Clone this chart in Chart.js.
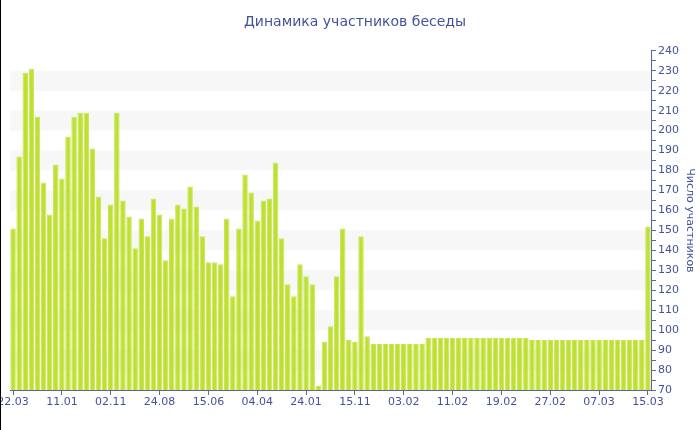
<!DOCTYPE html>
<html>
<head>
<meta charset="utf-8">
<script src="https://cdn.jsdelivr.net/npm/chart.js"></script>
<style>
body { margin: 0; background: #fff; }
</style>
</head>
<body>
<canvas id="chart" width="700" height="430"></canvas>

<script>
// tick labels shown every 8 bars along the bottom axis
const tickLabels = ['22.03', '11.01', '02.11', '24.08', '15.06', '04.04', '24.01',
                    '15.11', '03.02', '11.02', '19.02', '27.02', '07.03', '15.03'];

// participants per bar (left to right)
const members = [
  151, 187, 229, 231, 207, 174, 158, 183, 176, 197,
  207, 209, 209, 191, 167, 146, 163, 209, 165, 157,
  141, 156, 147, 166, 158, 135, 156, 163, 161, 172,
  162, 147, 134, 134, 133, 156, 117, 151, 178, 169,
  155, 165, 166, 184, 146, 123, 117, 133, 127, 123,
  72, 94, 102, 127, 151, 95, 94, 147, 97, 93,
  93, 93, 93, 93, 93, 93, 93, 93, 96, 96,
  96, 96, 96, 96, 96, 96, 96, 96, 96, 96,
  96, 96, 96, 96, 96, 95, 95, 95, 95, 95,
  95, 95, 95, 95, 95, 95, 95, 95, 95, 95,
  95, 95, 95, 95, 152
];

const categories = members.map((_, i) => i % 8 === 0 ? tickLabels[i / 8] : '');

const blue = '#42539a';
const axisBlue = '#5565a8';
const font = 'DejaVu Sans';

// light grey bands behind the bars, every other 10 units
const bands = {
  id: 'bands',
  beforeDatasetsDraw(chart) {
    const ctx = chart.ctx;
    const area = chart.chartArea;
    const y = chart.scales.y;
    ctx.save();
    ctx.fillStyle = '#f7f7f7';
    for (let v = 80; v < 240; v += 20) {
      const top = y.getPixelForValue(v + 10);
      const bottom = y.getPixelForValue(v);
      ctx.fillRect(area.left, top, area.right - area.left, bottom - top);
    }
    ctx.restore();
  },
  afterDraw(chart) {
    const ctx = chart.ctx;
    ctx.save();
    ctx.fillStyle = '#000';
    ctx.fillRect(0, 0, 1, chart.height);
    ctx.restore();
  }
};

new Chart(document.getElementById('chart'), {
  type: 'bar',
  data: {
    labels: categories,
    datasets: [{
      data: members,
      backgroundColor: '#bde12e',
      borderColor: '#c8e55a',
      borderWidth: 1,
      barPercentage: 0.9,
      categoryPercentage: 1
    }]
  },
  options: {
    responsive: false,
    animation: false,
    layout: { padding: { left: 10, right: 0, top: 0, bottom: 0 } },
    plugins: {
      legend: { display: false },
      tooltip: { enabled: false },
      title: {
        display: true,
        text: 'Динамика участников беседы',
        color: blue,
        font: { family: font, size: 14, weight: 'normal' },
        padding: { top: 14, bottom: 20 }
      }
    },
    scales: {
      x: {
        grid: {
          drawOnChartArea: false,
          offset: false,
          tickLength: 5,
          color: c => c.index % 8 === 0 ? axisBlue : 'rgba(0,0,0,0)'
        },
        border: { color: axisBlue, width: 1 },
        ticks: {
          autoSkip: false,
          maxRotation: 0,
          padding: 1,
          color: blue,
          font: { family: font, size: 11 }
        },
        afterFit(scale) {
          scale.paddingLeft = 0;
          scale.paddingRight = 0;
          scale.height = 40;
        }
      },
      y: {
        position: 'right',
        min: 70,
        max: 240,
        grid: { drawOnChartArea: false, tickLength: 5, color: axisBlue },
        border: { color: axisBlue, width: 1 },
        ticks: {
          stepSize: 5,
          autoSkip: false,
          padding: 2,
          color: blue,
          font: { family: font, size: 11 },
          callback: v => v % 10 === 0 ? v : ''
        },
        title: {
          display: true,
          text: 'Число участников',
          color: blue,
          font: { family: font, size: 11 },
          padding: { top: 4, bottom: 4 }
        },
        afterFit(scale) {
          scale.width = 49;
        }
      }
    }
  },
  plugins: [bands]
});
</script>
</body>
</html>
